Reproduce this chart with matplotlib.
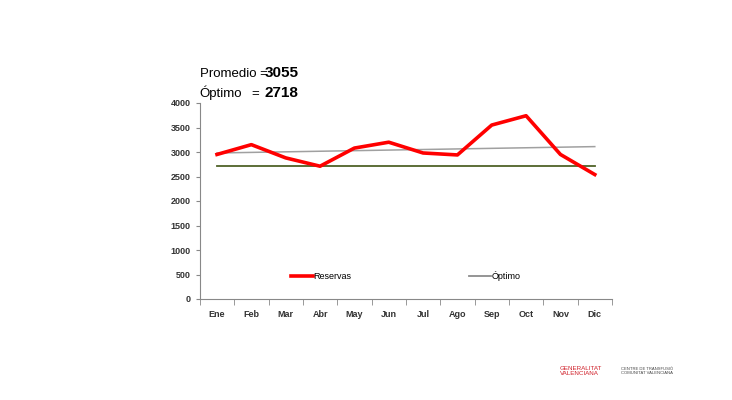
import numpy as np
import matplotlib.pyplot as plt

meses = ["Ene", "Feb", "Mar", "Abr", "May", "Jun", "Jul", "Ago", "Sep", "Oct", "Nov", "Dic"]
reservas = [2950, 3150, 2880, 2710, 3080, 3200, 2980, 2940, 3550, 3740, 2950, 2540]
optimo = [2718] * 12
tendencia_ini, tendencia_fin = 2980, 3110

plt.rcParams["font.family"] = ["Liberation Sans", "DejaVu Sans"]

fig = plt.figure(figsize=(7.32, 4), dpi=100)
ax = fig.add_axes([0.273, 0.2525, 0.563, 0.49])
x = np.arange(len(meses))

ax.plot(x, reservas, color="#ff0000", lw=2.6, label="Reservas", zorder=3)
ax.plot(x, optimo, color="#4f6228", lw=1.3, zorder=2)
ax.plot([x[0], x[-1]], [tendencia_ini, tendencia_fin], color="#a0a0a0", lw=1.1, zorder=1)
ax.plot([], [], color="#8c8c8c", lw=1.3, label="Óptimo")

ax.set_xlim(-0.48, 11.15)
ax.set_ylim(0, 4000)
ax.set_yticks(range(0, 4001, 500))
ax.set_xticks(x)
ax.set_xticklabels(meses)
ax.set_xticks(np.arange(-0.5, 11.6, 1), minor=True)
ax.tick_params(axis="x", which="major", length=0, pad=8)
ax.tick_params(axis="x", which="minor", length=4, color="#888888")
ax.tick_params(axis="y", length=3, color="#888888")
for lab in ax.get_xticklabels() + ax.get_yticklabels():
    lab.set_fontsize(6.5)
    lab.set_fontweight("bold")
    lab.set_color("#333333")
for s in ["top", "right"]:
    ax.spines[s].set_visible(False)
for s in ["left", "bottom"]:
    ax.spines[s].set_color("#888888")

ax.legend(loc="lower center", bbox_to_anchor=(0.5, 0.05), ncol=2, frameon=False,
          fontsize=6.5, columnspacing=13, handlelength=2.4, handletextpad=0.1)

fig.text(0.273, 0.8, "Promedio =", fontsize=9.5, va="bottom")
fig.text(0.362, 0.8, "3055", fontsize=11, weight="bold", va="bottom")
fig.text(0.273, 0.75, "Óptimo", fontsize=9.5, va="bottom")
fig.text(0.344, 0.75, "=", fontsize=9.5, va="bottom")
fig.text(0.362, 0.75, "2718", fontsize=11, weight="bold", va="bottom")

fig.text(0.765, 0.062, "GENERALITAT\nVALENCIANA", fontsize=4.5, color="#d0202a", linespacing=1.0)
fig.text(0.848, 0.066, "CENTRE DE TRANSFUSIÓ\nCOMUNITAT VALENCIANA", fontsize=3, color="#444444", linespacing=1.0)

fig.savefig("out.png", dpi=100)
